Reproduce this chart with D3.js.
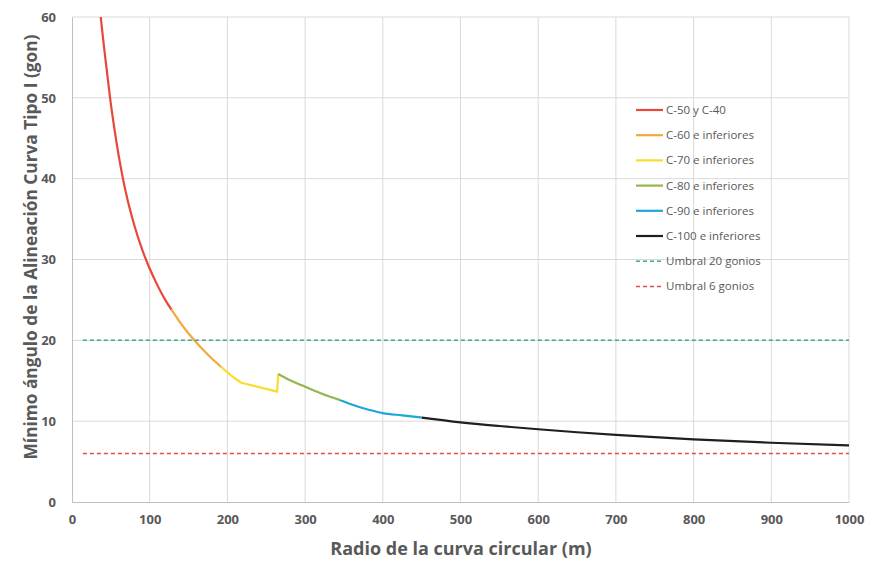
<!DOCTYPE html>
<html>
<head>
<meta charset="utf-8">
<script src="https://cdn.jsdelivr.net/npm/d3@7"></script>
<style>
  body { margin: 0; background: #fff; }
  svg text { font-family: "Open Sans", "Liberation Sans", sans-serif; fill: #595959; }
</style>
</head>
<body>
<div id="chart"></div>
<script>
// values: [radio (m), angulo (gon)]
var serieC50 = [[37,60],[40,57.3],[45,53.2],[49,50.0],[55,45.9],[60,42.9],[65.6,40.0],[70,38.0],[80,34.3],[90,31.3],[99,29.1],[110,26.8],[120,25.0],[128,23.8]];
var serieC60 = [[128,23.8],[140,22.1],[150,20.85],[158,19.95],[169,18.8],[180,17.75],[192,16.7]];
var serieC70 = [[192,16.7],[199,16.12],[208,15.4],[218,14.75],[264,13.65],[265.5,15.84]];
var serieC80 = [[265.5,15.84],[280,15.1],[300,14.25],[320,13.45],[345,12.6]];
var serieC90 = [[345,12.6],[360,12.07],[375,11.6],[390,11.22],[400,11.0],[425,10.72],[450,10.45]];
var serieC100 = [[450,10.45],[500,9.86],[550,9.4],[600,9.0],[650,8.63],[700,8.3],[800,7.75],[900,7.33],[1000,7.0]];
var umbral20 = [[14,20],[1000,20]];
var umbral6 = [[14,6],[1000,6]];

var nombres = ["C-50 y C-40","C-60 e inferiores","C-70 e inferiores","C-80 e inferiores","C-90 e inferiores","C-100 e inferiores","Umbral 20 gonios","Umbral 6 gonios"];
var colores = ["#e8473a","#f2a93b","#f9dc2e","#92b84b","#1ea6d6","#1f1f1f","#3aaa96","#e34b4b"];
var datos = [serieC50,serieC60,serieC70,serieC80,serieC90,serieC100,umbral20,umbral6];
var xTicks = [0,100,200,300,400,500,600,700,800,900,1000];
var yTicks = [0,10,20,30,40,50,60];

var W = 869, H = 562;
var svg = d3.select("#chart").append("svg").attr("width", W).attr("height", H);

var x = d3.scaleLinear().domain([0, 1000]).range([72, 849]);
var y = d3.scaleLinear().domain([0, 60]).range([502, 17]);

// grid
svg.append("g").selectAll("line").data(xTicks.slice(1)).enter().append("line")
  .attr("x1", function(d) { return x(d); }).attr("x2", function(d) { return x(d); })
  .attr("y1", y(0)).attr("y2", y(60))
  .attr("stroke", "#d9d9d9").attr("stroke-width", 1);
svg.append("g").selectAll("line").data(yTicks.slice(1)).enter().append("line")
  .attr("x1", x(0)).attr("x2", x(1000))
  .attr("y1", function(d) { return y(d); }).attr("y2", function(d) { return y(d); })
  .attr("stroke", "#d9d9d9").attr("stroke-width", 1);

// axes
var xAxis = svg.append("g").attr("transform", "translate(0," + y(0) + ")")
  .call(d3.axisBottom(x).tickValues(xTicks).tickFormat(d3.format("d")).tickSize(0).tickPadding(13));
var yAxis = svg.append("g").attr("transform", "translate(" + x(0) + ",0)")
  .call(d3.axisLeft(y).tickValues(yTicks).tickFormat(d3.format("d")).tickSize(0).tickPadding(16));
[xAxis, yAxis].forEach(function(a) {
  a.select(".domain").attr("stroke", "#bfbfbf");
  a.selectAll("text").attr("font-size", 13).attr("font-weight", "bold").attr("fill", "#595959")
    .style("font-family", "'Liberation Sans Narrow', 'Open Sans', sans-serif");
});

// series
var line = d3.line().x(function(d) { return x(d[0]); }).y(function(d) { return y(d[1]); }).curve(d3.curveMonotoneX);
var lineStraight = d3.line().x(function(d) { return x(d[0]); }).y(function(d) { return y(d[1]); });

datos.forEach(function(s, i) {
  var dashed = i >= 6;
  svg.append("path")
    .attr("d", (dashed || i == 2) ? lineStraight(s) : line(s))
    .attr("fill", "none")
    .attr("stroke", colores[i])
    .attr("stroke-width", dashed ? 1.5 : 2.2)
    .attr("stroke-dasharray", dashed ? "4,3" : null)
    .attr("stroke-linejoin", "round");
});

// legend
var leg = svg.append("g").attr("transform", "translate(636,110)");
nombres.forEach(function(n, i) {
  var g = leg.append("g").attr("transform", "translate(0," + (i * 25.2) + ")");
  g.append("line").attr("x1", 0).attr("x2", 27).attr("y1", 0).attr("y2", 0)
    .attr("stroke", colores[i]).attr("stroke-width", i >= 6 ? 1.5 : 2.2)
    .attr("stroke-dasharray", i >= 6 ? "4,3" : null);
  g.append("text").attr("x", 30).attr("y", 4).attr("font-size", 11.5).text(n);
});

// titles
svg.append("text").attr("x", 461).attr("y", 555).attr("text-anchor", "middle")
  .attr("font-size", 18).attr("font-weight", "bold")
  .text("Radio de la curva circular (m)");
svg.append("text").attr("transform", "translate(37,247) rotate(-90)").attr("text-anchor", "middle")
  .attr("font-size", 17.3).attr("font-weight", "bold")
  .text("Mínimo ángulo de la Alineación Curva Tipo I (gon)");
</script>
</body>
</html>
